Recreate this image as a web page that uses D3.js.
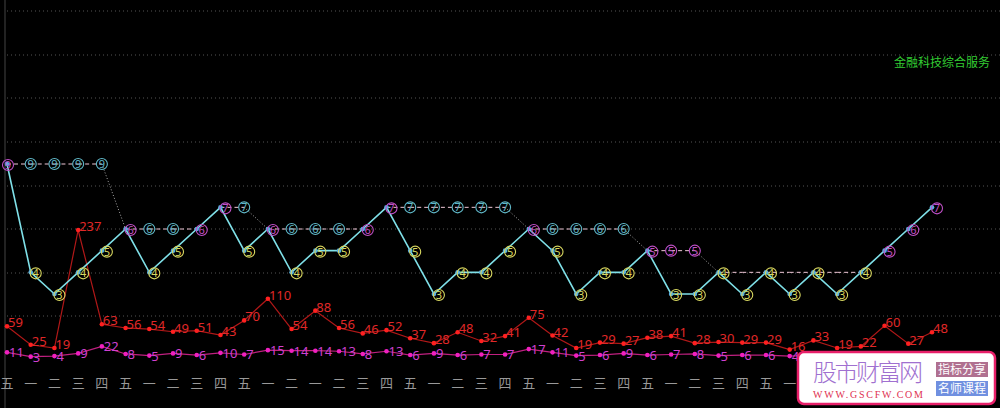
<!DOCTYPE html><html><head><meta charset="utf-8"><script src="https://cdn.jsdelivr.net/npm/d3@7"></script>
<style>body{margin:0;background:#000}svg{display:block}</style></head><body><svg id="c" width="1000" height="408"></svg>
<script>
const days=["五","一","二","三","四","五","一","二","三","四","五","一","二","一","二","三","四","五","一","二","三","四","五","一","二","三","四","五","一","二","三","四","五","一","二","三","四","五","一","二"];
const steps=[9,4,3,4,5,6,4,5,6,7,5,6,4,5,5,6,7,5,3,4,4,5,6,5,3,4,4,5,3,3,4,3,4,3,4,3,4,5,6,7];
const stepHigh=[0,5,8,9,11,15,16,22,27,37,38,39];
const level=[9,9,9,9,9,6,6,6,6,7,7,6,6,6,6,6,7,7,7,7,7,7,6,6,6,6,6,5,5,5,4,4,4,4,4,4,4];
const cyanMarks=[1,2,3,4,6,7,10,12,13,14,17,18,19,20,21,23,24,25,26];
const pinkMarks=[28,29];
const redVals=[59,25,19,237,63,56,54,49,51,43,70,110,54,88,56,46,52,37,28,48,32,41,75,42,19,29,27,38,41,28,30,29,29,16,33,19,22,60,27,48];
const magVals=[11,3,4,9,22,8,5,9,6,10,7,15,14,14,13,8,13,6,9,6,7,7,17,11,5,6,9,6,7,8,5,6,6,4,6,5,6,8,7,9];
const grid=[11,55,98,142,186,229,273,316];
const svg=d3.select("#c");
const x=d3.scaleLinear().domain([0,39]).range([7,932]);
const ys=d3.scaleLinear().domain([3,9]).range([294,164]);
const yv=d3.scaleLinear().domain([19,237]).range([348,230]);
const hidden=(px,py)=>px>792&&py>348;
svg.append("line").attr("x1",5).attr("x2",5).attr("y1",0).attr("y2",408).attr("stroke","#222").attr("stroke-width",2);
svg.selectAll(".g").data(grid).join("line").attr("x1",7).attr("x2",1000).attr("y1",d=>d).attr("y2",d=>d).attr("stroke","#555").attr("stroke-dasharray","1,3");
svg.append("text").attr("x",990).attr("y",67).attr("text-anchor","end").attr("fill","#3c3").attr("font-size",12).attr("font-family","Noto Sans CJK SC").text("金融科技综合服务");
for(let i=1;i<level.length;i++){
  const diag=level[i]!==level[i-1];
  svg.append("line").attr("x1",x(i-1)).attr("y1",ys(level[i-1])).attr("x2",x(i)).attr("y2",ys(level[i]))
   .attr("stroke",diag?"#aaa":"#f0c8d8").attr("stroke-width",1).attr("stroke-dasharray",diag?"1,2":"4,3");
}
svg.append("path").datum(magVals).attr("fill","none").attr("stroke","#c02080").attr("stroke-width",1.2).attr("d",d3.line().x((d,i)=>x(i)).y(d=>yv(d)));
svg.selectAll(".md").data(magVals).join("circle").attr("cx",(d,i)=>x(i)).attr("cy",d=>yv(d)).attr("r",2.3).attr("fill","#f020c0");
svg.selectAll(".mt").data(magVals.map((v,i)=>[v,i]).filter(([v,i])=>!hidden(x(i),yv(v)))).join("text").attr("x",d=>x(d[1])+2).attr("y",d=>yv(d[0])+5).attr("fill","#d040d0").attr("font-size",13).attr("font-family","Noto Sans").text(d=>d[0]);
svg.append("path").datum(redVals).attr("fill","none").attr("stroke","#b01818").attr("stroke-width",1.2).attr("d",d3.line().x((d,i)=>x(i)).y(d=>yv(d)));
svg.selectAll(".rd").data(redVals).join("circle").attr("cx",(d,i)=>x(i)).attr("cy",d=>yv(d)).attr("r",2.3).attr("fill","#ff2020");
svg.selectAll(".rt").data(redVals).join("text").attr("x",(d,i)=>x(i)+1).attr("y",d=>yv(d)+1).attr("fill","#e02828").attr("font-size",13).attr("font-family","Noto Sans").text(d=>d);
svg.append("path").datum(steps).attr("fill","none").attr("stroke","#7fe0e8").attr("stroke-width",1.6).attr("d",d3.line().x((d,i)=>x(i)).y(d=>ys(d)));
svg.selectAll(".sd").data(steps).join("circle").attr("cx",(d,i)=>x(i)).attr("cy",d=>ys(d)).attr("r",2.3).attr("fill","#5ab0e0");
function mark(cx,cy,v,col){
  svg.append("circle").attr("cx",cx).attr("cy",cy).attr("r",5.5).attr("fill","none").attr("stroke",col).attr("stroke-width",1.1);
  svg.append("text").attr("x",cx).attr("y",cy+4).attr("text-anchor","middle").attr("fill",col).attr("font-size",11).attr("font-family","Noto Sans").text(v);
}
steps.forEach((v,i)=>mark(x(i)+(i===0?1:5),ys(v)+1,v,stepHigh.includes(i)?"#c050c8":"#d8d860"));
cyanMarks.forEach(i=>mark(x(i),ys(level[i]),level[i],"#60b8c8"));
pinkMarks.forEach(i=>mark(x(i),ys(level[i]),level[i],"#c050c8"));
svg.selectAll(".xl").data(days.map((d,i)=>[d,i]).filter(d=>!hidden(x(d[1]),388))).join("text").attr("x",d=>x(d[1])).attr("y",388).attr("text-anchor","middle").attr("fill","#999").attr("font-size",13).attr("font-family","Noto Sans CJK SC").text(d=>d[0]);
const w=svg.append("g");
w.append("rect").attr("x",798).attr("y",352).attr("width",197).attr("height",52).attr("rx",6).attr("fill","#fff").attr("stroke","#e8206a").attr("stroke-width",2.5);
w.append("text").attr("x",813).attr("y",381).attr("fill","#a070d0").attr("font-size",24).attr("font-weight",300).attr("font-family","Noto Sans CJK SC").attr("textLength",110).text("股市财富网");
w.append("text").attr("x",813).attr("y",398).attr("fill","#e03050").attr("font-size",10).attr("font-family","Liberation Serif").attr("textLength",110).text("WWW.GSCFW.COM");
w.append("rect").attr("x",936).attr("y",362).attr("width",52).attr("height",15).attr("fill","#b07090");
w.append("rect").attr("x",936).attr("y",381).attr("width",52).attr("height",15).attr("fill","#7090e0");
w.append("text").attr("x",962).attr("y",374).attr("text-anchor","middle").attr("fill","#fff").attr("font-size",12).attr("font-family","Noto Sans CJK SC").text("指标分享");
w.append("text").attr("x",962).attr("y",393).attr("text-anchor","middle").attr("fill","#fff").attr("font-size",12).attr("font-family","Noto Sans CJK SC").text("名师课程");
</script></body></html>
